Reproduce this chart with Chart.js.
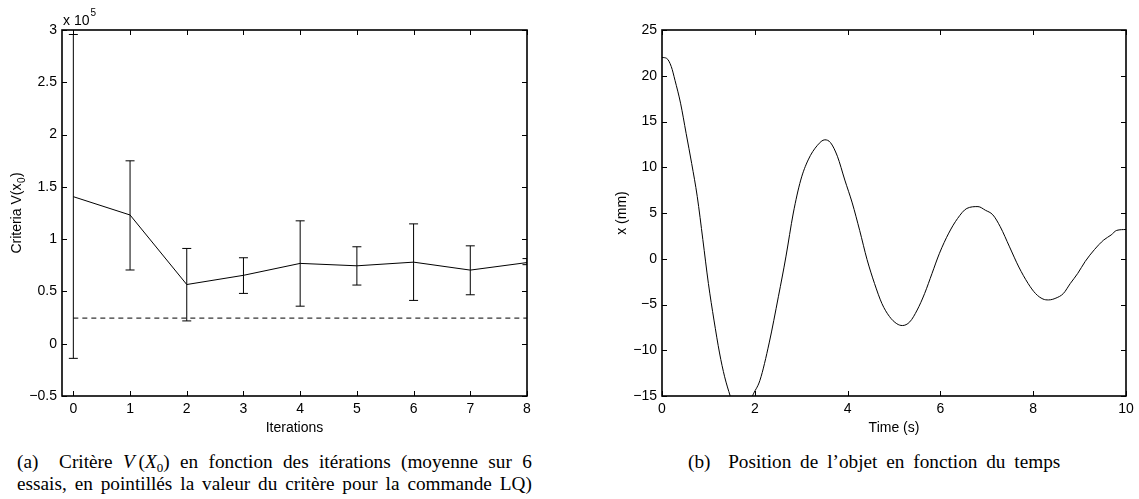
<!DOCTYPE html>
<html>
<head>
<meta charset="utf-8">
<script src="https://cdn.jsdelivr.net/npm/chart.js@4.4.1/dist/chart.umd.min.js"></script>
<style>
html,body{margin:0;padding:0;background:#fff;width:1139px;height:499px;overflow:hidden;}
#wrap{position:relative;width:1139px;height:499px;}
#c1box{position:absolute;left:0;top:0;width:560px;height:445px;}
#c2box{position:absolute;left:560px;top:0;width:579px;height:445px;}
.cap{position:absolute;font-family:"Liberation Serif","Times New Roman",serif;font-size:18.5px;color:#000;line-height:20px;transform:scaleX(1.04);transform-origin:0 0;}
.just{text-align:justify;text-align-last:justify;}
.sub{font-size:12.5px;position:relative;top:4px;}
</style>
</head>
<body>
<div id="wrap">
  <div id="c1box"><canvas id="c1"></canvas></div>
  <div id="c2box"><canvas id="c2"></canvas></div>
  <div class="cap" style="left:17px;top:452px;width:495px;">
    <div class="just">(a)&nbsp; Critère <i>V</i>&thinsp;(<i>X</i><span class="sub">0</span>) en fonction des itérations (moyenne sur 6</div>
    <div class="just">essais, en pointillés la valeur du critère pour la commande LQ)</div>
  </div>
  <div class="cap just" style="left:688px;top:452px;width:358px;">(b)&nbsp; Position de l’objet en fonction du temps</div>
</div>
<script>
// ---------- Data: left chart (criteria vs iterations, values in units of 10^5) ----------
const iterations   = [0, 1, 2, 3, 4, 5, 6, 7, 8];
const criteriaMean = [1.406, 1.231, 0.566, 0.654, 0.768, 0.745, 0.780, 0.704, 0.776];
const criteriaLow  = [-0.140, 0.705, 0.218, 0.481, 0.359, 0.561, 0.414, 0.468, 0.756];
const criteriaHigh = [2.957, 1.749, 0.911, 0.822, 1.175, 0.927, 1.146, 0.936, 0.814];
const lqCriterion  = 0.245;
const leftXTicks      = [0, 1, 2, 3, 4, 5, 6, 7, 8];
const leftXTickLabels = ['0', '1', '2', '3', '4', '5', '6', '7', '8'];
const leftYTicks      = [-0.5, 0, 0.5, 1, 1.5, 2, 2.5, 3];
const leftYTickLabels = ['\u22120.5', '0', '0.5', '1', '1.5', '2', '2.5', '3'];

// ---------- Data: right chart (object position vs time) ----------
const timeValues = [0, 0.1, 0.2, 0.28, 0.4, 0.52, 0.64, 0.76, 0.88, 1.0, 1.12, 1.24, 1.35, 1.47, 1.6, 1.72, 1.84, 1.95,
  2.11, 2.31, 2.51, 2.67, 2.83, 2.99, 3.15, 3.35, 3.51, 3.63, 3.78, 3.94, 4.1, 4.26, 4.42, 4.58, 4.74, 4.9, 5.06, 5.18,
  5.34, 5.5, 5.66, 5.82, 5.98, 6.18, 6.37, 6.57, 6.81, 6.97, 7.13, 7.29, 7.49, 7.69, 7.89, 8.05, 8.21, 8.33, 8.49, 8.65,
  8.8, 8.96, 9.12, 9.32, 9.52, 9.68, 9.8, 10];
const positionValues = [22.0, 21.9, 21.0, 19.5, 17.0, 13.7, 10.4, 6.8, 2.1, -2.7, -6.7, -10.3, -12.9, -15.0, -17.0, -17.6, -16.6, -15.0,
  -13.3, -9.2, -4.1, 0.2, 5.0, 8.6, 10.8, 12.4, 13.0, 12.7, 11.2, 8.6, 6.1, 3.1, -0.1, -2.7, -4.9, -6.3, -7.1, -7.3,
  -6.9, -5.6, -3.8, -1.6, 0.6, 2.8, 4.4, 5.5, 5.7, 5.3, 4.8, 3.5, 1.3, -0.9, -2.7, -3.8, -4.4, -4.5, -4.3, -3.8,
  -2.7, -1.6, -0.3, 1.0, 2.05, 2.6, 3.1, 3.2];
const rightXTicks      = [0, 2, 4, 6, 8, 10];
const rightXTickLabels = ['0', '2', '4', '6', '8', '10'];
const rightYTicks      = [-15, -10, -5, 0, 5, 10, 15, 20, 25];
const rightYTickLabels = ['\u221215', '\u221210', '\u22125', '0', '5', '10', '15', '20', '25'];

// ---------- Styling ----------
const SANS = '"Liberation Sans", Arial, Helvetica, sans-serif';
Chart.defaults.font.family = SANS;
Chart.defaults.font.size = 14;
Chart.defaults.color = '#000';

const framePlugin = {
  id: 'frame',
  afterDatasetsDraw(chart, args, opts) {
    const {ctx, chartArea: a} = chart;
    const xs = chart.scales.x, ys = chart.scales.y;
    const L = 5;
    ctx.save();
    ctx.strokeStyle = '#000';
    ctx.lineWidth = 1;
    ctx.beginPath();
    xs.ticks.forEach(t => {
      const px = Math.round(xs.getPixelForValue(t.value)) + 0.5;
      ctx.moveTo(px, a.bottom); ctx.lineTo(px, a.bottom - L);
      ctx.moveTo(px, a.top); ctx.lineTo(px, a.top + L);
    });
    ys.ticks.forEach(t => {
      const py = Math.round(ys.getPixelForValue(t.value)) + 0.5;
      ctx.moveTo(a.left, py); ctx.lineTo(a.left + L, py);
      ctx.moveTo(a.right, py); ctx.lineTo(a.right - L, py);
    });
    ctx.stroke();
    ctx.lineWidth = 1.6;
    ctx.strokeRect(a.left, a.top, a.right - a.left, a.bottom - a.top);
    ctx.fillStyle = '#000';
    if (opts && opts.exponent) {
      ctx.textBaseline = 'alphabetic';
      ctx.textAlign = 'left';
      ctx.font = '14px ' + SANS;
      const base = 'x 10';
      ctx.fillText(base, a.left + 1, a.top - 5);
      const w = ctx.measureText(base).width;
      ctx.font = '10px ' + SANS;
      ctx.fillText(opts.exponent, a.left + 2 + w, a.top - 14);
    }
    if (opts && opts.yTitle) {
      // rotated axis title with a real subscript
      const t = opts.yTitle;
      ctx.save();
      ctx.translate(opts.yTitleX, (a.top + a.bottom) / 2);
      ctx.rotate(-Math.PI / 2);
      ctx.textBaseline = 'middle';
      ctx.textAlign = 'left';
      ctx.font = '14px ' + SANS;
      const w1 = ctx.measureText(t.main).width;
      const w3 = ctx.measureText(t.tail).width;
      ctx.font = '10px ' + SANS;
      const w2 = ctx.measureText(t.sub).width;
      const total = w1 + w2 + w3 + 1;
      const x0 = -total / 2;
      ctx.font = '14px ' + SANS;
      ctx.fillText(t.main, x0, 0);
      ctx.font = '10px ' + SANS;
      ctx.fillText(t.sub, x0 + w1 + 0.5, 5);
      ctx.font = '14px ' + SANS;
      ctx.fillText(t.tail, x0 + w1 + w2 + 1, 0);
      ctx.restore();
    }
    ctx.restore();
  }
};

function fixedTicks(values) {
  return function (scale) { scale.ticks = values.map(v => ({value: v})); };
}

// ---------- Left chart ----------
const errData = [];
iterations.forEach((it, i) => {
  errData.push({x: it, y: criteriaLow[i]});
  errData.push({x: it, y: criteriaHigh[i]});
  errData.push({x: it, y: null});
});

new Chart(document.getElementById('c1'), {
  type: 'line',
  data: {
    datasets: [
      {
        label: 'mean',
        data: iterations.map((it, i) => ({x: it, y: criteriaMean[i]})),
        borderColor: '#000', borderWidth: 1, pointRadius: 0, tension: 0, clip: 0
      },
      {
        label: 'error',
        data: errData,
        borderColor: '#000', borderWidth: 1, spanGaps: false,
        pointStyle: 'line', pointRadius: 4.5, pointBorderWidth: 1, pointBorderColor: '#000',
        pointHoverRadius: 4.5, clip: 0
      },
      {
        label: 'LQ',
        data: [{x: iterations[0], y: lqCriterion}, {x: iterations[iterations.length - 1], y: lqCriterion}],
        borderColor: '#000', borderWidth: 1, borderDash: [5, 4], pointRadius: 0, clip: 0
      }
    ]
  },
  options: {
    responsive: true, maintainAspectRatio: false, animation: false,
    layout: {padding: {top: 30, right: 33, left: 0, bottom: 0}},
    plugins: {
      legend: {display: false}, tooltip: {enabled: false},
      frame: {exponent: '5', yTitle: {main: 'Criteria V(x', sub: '0', tail: ')'}, yTitleX: 17}
    },
    scales: {
      x: {
        type: 'linear', min: -0.2, max: 8,
        afterBuildTicks: fixedTicks(leftXTicks),
        afterFit: s => { s.height = 49; },
        grid: {display: false, drawTicks: false}, border: {display: false},
        ticks: {padding: 5, maxRotation: 0, autoSkip: false,
          callback: (v) => leftXTickLabels[leftXTicks.indexOf(v)]},
        title: {display: true, text: 'Iterations', padding: {top: 0, bottom: 8}}
      },
      y: {
        type: 'linear', min: -0.5, max: 3,
        afterBuildTicks: fixedTicks(leftYTicks),
        afterFit: s => { s.width = 62; },
        grid: {display: false, drawTicks: false}, border: {display: false},
        ticks: {padding: 5, autoSkip: false,
          callback: (v) => leftYTickLabels[leftYTicks.indexOf(v)]},
        title: {display: false}
      }
    }
  },
  plugins: [framePlugin]
});

// ---------- Right chart ----------
new Chart(document.getElementById('c2'), {
  type: 'line',
  data: {
    datasets: [{
      label: 'x',
      data: timeValues.map((t, i) => ({x: t, y: positionValues[i]})),
      borderColor: '#000', borderWidth: 1, pointRadius: 0,
      cubicInterpolationMode: 'monotone', clip: 0
    }]
  },
  options: {
    responsive: true, maintainAspectRatio: false, animation: false,
    layout: {padding: {top: 30, right: 13, left: 0, bottom: 0}},
    plugins: {legend: {display: false}, tooltip: {enabled: false}, frame: {}},
    scales: {
      x: {
        type: 'linear', min: 0, max: 10,
        afterBuildTicks: fixedTicks(rightXTicks),
        afterFit: s => { s.height = 49; },
        grid: {display: false, drawTicks: false}, border: {display: false},
        ticks: {padding: 5, maxRotation: 0, autoSkip: false,
          callback: (v) => rightXTickLabels[rightXTicks.indexOf(v)]},
        title: {display: true, text: 'Time (s)', padding: {top: 0, bottom: 8}}
      },
      y: {
        type: 'linear', min: -15, max: 25,
        afterBuildTicks: fixedTicks(rightYTicks),
        afterFit: s => { s.width = 102; },
        grid: {display: false, drawTicks: false}, border: {display: false},
        ticks: {padding: 5, autoSkip: false,
          callback: (v) => rightYTickLabels[rightYTicks.indexOf(v)]},
        title: {display: true, text: 'x (mm)', padding: {top: 54, bottom: 0}}
      }
    }
  },
  plugins: [framePlugin]
});
</script>
</body>
</html>
